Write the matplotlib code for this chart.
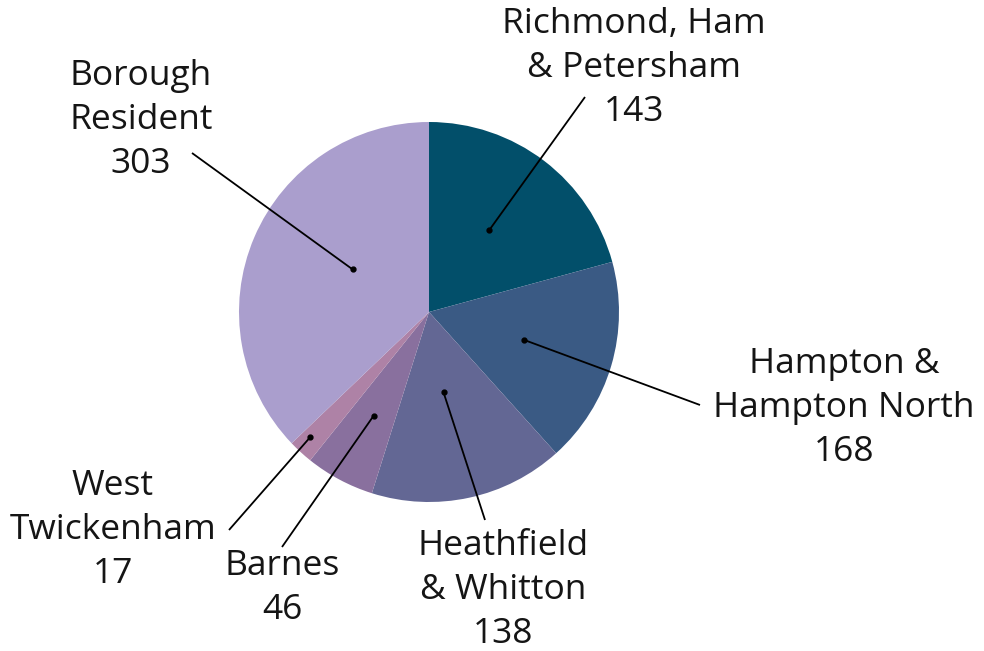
import numpy as np
import matplotlib
matplotlib.use("Agg")
import matplotlib.pyplot as plt

labels = ["Richmond, Ham\n& Petersham", "Hampton &\nHampton North", "Heathfield\n& Whitton",
          "Barnes", "West\nTwickenham", "Borough\nResident"]
counts = [143, 168, 138, 46, 17, 303]
# slice sizes as drawn in the picture (degrees of the circle)
slice_sizes = [74.7, 63.3, 59.5, 21.2, 7.6, 133.7]
colors = ["#024f6a", "#3a5a84", "#636794", "#89709e", "#ae82a6", "#aa9ecd"]

# layout (pixel coordinates, y downwards)
W, H = 984, 651
center_px = (429, 312)
radius_px = 190
label_pos = [(634, 68), (844, 408), (503, 590), (282, 588), (113, 530), (141, 120)]
line_start = [(585, 97), (700, 405), (485, 520), (282, 547), (229, 530), (192, 153)]
anchor_frac = [0.535, 0.52, 0.43, 0.62, 0.91, 0.46]
anchor_dang = [1.0, 0.0, -2.0, 0.0, -1.0, -6.0]

plt.rcParams['font.family'] = ['Open Sans', 'DejaVu Sans']
fig = plt.figure(figsize=(W / 100, H / 100), dpi=100)
ax = fig.add_axes([0, 0, 1, 1])
cx, cy = center_px[0], H - center_px[1]
wedges, _ = ax.pie(slice_sizes, colors=colors, startangle=90, counterclock=False,
                   center=(cx, cy), radius=radius_px, frame=True,
                   wedgeprops=dict(linewidth=0))
ax.set_xlim(0, W)
ax.set_ylim(0, H)
ax.set_aspect('auto')
ax.axis('off')

for i, w in enumerate(wedges):
    ang = np.deg2rad((w.theta1 + w.theta2) / 2 + anchor_dang[i])
    px = cx + anchor_frac[i] * radius_px * np.cos(ang)
    py = cy + anchor_frac[i] * radius_px * np.sin(ang)
    sx, sy = line_start[i][0], H - line_start[i][1]
    ax.plot([sx, px], [sy, py], color="black", lw=1.3, solid_capstyle='butt')
    ax.plot([px], [py], marker='o', ms=3.5, color="black")
    lx, ly = label_pos[i][0], H - label_pos[i][1]
    ax.text(lx, ly, f"{labels[i]}\n{counts[i]}", ha='center', va='center',
            fontsize=25.5, color="#151515", linespacing=1.38)

fig.savefig("out.png", dpi=100, facecolor="white")
